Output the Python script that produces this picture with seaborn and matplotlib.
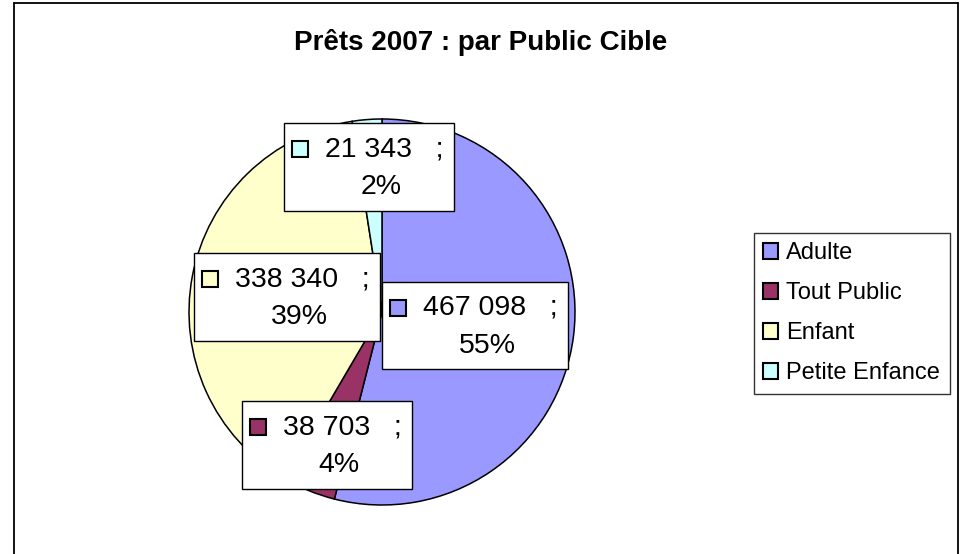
import matplotlib
matplotlib.use("Agg")
import matplotlib.pyplot as plt
import seaborn as sns
from matplotlib.patches import Rectangle, Patch
from matplotlib.lines import Line2D

# ---- data ----
categories = ["Adulte", "Tout Public", "Enfant", "Petite Enfance"]
values = [467098, 38703, 338340, 21343]
pct_labels = ["55%", "4%", "39%", "2%"]
colors = ["#9999FF", "#993366", "#FFFFCC", "#CCFFFF"]
title = "Prêts 2007 : par Public Cible"

sns.set_theme(style="white")
plt.rcParams["font.family"] = ["Liberation Sans", "DejaVu Sans"]
plt.rcParams["text.color"] = "black"

W, H = 963, 554
fig = plt.figure(figsize=(W / 100, H / 100), dpi=100)
fig.patch.set_facecolor("white")

def fx(px):
    return px / W

def fy(py):
    return 1 - py / H

# pie axes: centre (382, 312), radius 193 px
cx, cy, r = 382, 312, 193
ax = fig.add_axes([fx(cx - r), fy(cy + r), 2 * r / W, 2 * r / H])
wedges, _ = ax.pie(values, colors=colors, startangle=90, counterclock=False,
                   wedgeprops=dict(edgecolor="black", linewidth=1.1))
ax.set_aspect("equal")
ax.set_xlim(-1, 1)
ax.set_ylim(-1, 1)
ax.axis("off")

# title
fig.text(fx(480.5), fy(42), title, ha="center", va="center",
         fontsize=20, fontweight="bold", color="black")

# outer chart border (no bottom edge visible)
for (x0, y0, x1, y1) in [(14.3, 560, 14.3, 3.3), (14.3, 3.3, 957.7, 3.3), (957.7, 3.3, 957.7, 560)]:
    fig.add_artist(Line2D([fx(x0), fx(x1)], [fy(y0), fy(y1)], color="black", lw=1.3,
                          transform=fig.transFigure))

# data label boxes (layout: left, top, width, height, text-centre offset)
box_layout = {
    "Adulte": (382, 282, 186, 87, 108),
    "Tout Public": (242, 401, 170, 88, 100),
    "Enfant": (194, 253, 186, 88, 108),
    "Petite Enfance": (284, 123, 170, 88, 100),
}

def fmt(v):
    return f"{v:,}".replace(",", " ")

for cat, val, pct, col in zip(categories, values, pct_labels, colors):
    L, T, BW, BH, tc = box_layout[cat]
    fig.add_artist(Rectangle((fx(L), fy(T + BH)), BW / W, BH / H, transform=fig.transFigure,
                             facecolor="white", edgecolor="black", lw=1.0, zorder=5))
    ms = 16
    fig.add_artist(Rectangle((fx(L + 16 - ms / 2), fy(T + 26 + ms / 2)), ms / W, ms / H,
                             transform=fig.transFigure, facecolor=col, edgecolor="black",
                             lw=1.5, zorder=6))
    fig.text(fx(L + tc), fy(T + 26), f"{fmt(val)}   ;", ha="center", va="center",
             fontsize=20.5, color="black", zorder=7)
    fig.text(fx(L + tc - 3), fy(T + 64), pct, ha="center", va="center",
             fontsize=20.5, color="black", zorder=7)

# legend
handles = [Patch(facecolor=c, edgecolor="black", lw=1.5) for c in colors]
leg = fig.legend(handles, categories, loc="upper left",
                 bbox_to_anchor=(fx(754), fy(233)), bbox_transform=fig.transFigure,
                 fontsize=17, frameon=True, fancybox=False, shadow=False,
                 handlelength=0.62, handleheight=0.62, handletextpad=0.35,
                 labelspacing=0.76, borderpad=0.4, borderaxespad=0)
leg.get_frame().set_edgecolor("black")
leg.get_frame().set_linewidth(1.0)
for t in leg.get_texts():
    t.set_color("black")

fig.savefig("out.png", dpi=100)
